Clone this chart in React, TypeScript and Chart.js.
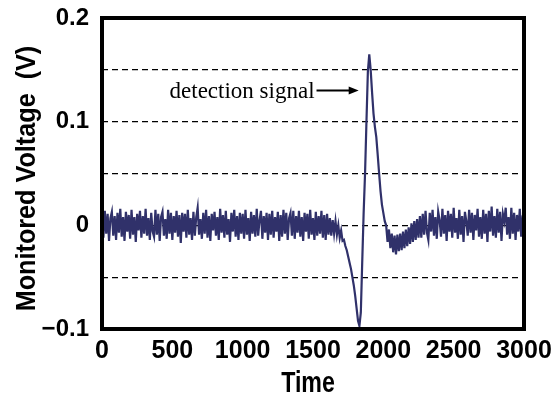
import { useEffect, useRef } from 'react';
import { Chart, registerables } from 'chart.js';

Chart.register(...registerables);

// Sampling of the monitored trace (time units)
const TIME_START = 0;
const TIME_STEP = 10;

// Monitored voltage in millivolts, one value per TIME_STEP, t = 0 … 3000
const VOLTAGE_MV = [
  10, -12, 14, -8, 11, -15, 7, 13, -10, 9, -14, 12, -7, 16, -11, 8, -15, 13, -6, 10,
  -13, 15, -9, 8, -16, 11, -5, 14, -12, 9, -8, 16, -10, 7, -14, 12, -6, -11, 15, -9,
  11, -15, 8, 13, -10, 6, -13, 15, -8, 12, -14, 9, -7, 14, -11, 10, -17, 12, -6, 11,
  -12, 15, -9, 7, -14, 13, -10, 8, 17, -9, 6, -13, 12, -8, 15, -12, 9, -15, 11, -5,
  13, -10, 8, -14, 16, -7, 10, -12, 14, -9, 6, -16, 12, -6, 15, -11, 9, -14, 12, -8,
  11, -13, 15, -9, 7, -15, 13, -8, 10, -11, 16, -10, 5, 14, -13, 9, -7, 12, -14, 11,
  -9, 14, -12, 8, -6, 13, -15, 10, -11, 15, -8, 12, -14, 7, 12, -10, 14, -13, 9, -7,
  14, -11, 8, -15, 12, -6, 11, -13, 15, -9, 7, -14, 13, -10, 9, -8, 14, -12, 10, -14,
  11, -9, 7, -10, 5,
  -8, 4, -9, 0, -12, -5, -15, -14, -20, -24,
  -30, -36, -42, -50, -58, -68, -80, -92, -97, -84,
  -35, 12, 50, 100, 148, 165, 150, 128, 108, 95,
  85, 68, 50, 33, 20, 12, 4, 0, -16, -4,
  -22, -8, -26, -10, -28, -9, -25, -8, -24, -6,
  -22, -4, -20, -2, -18, 2, -16, 4, -14, 6,
  -12,
  9, -12, 11, -9, 14, -7, -14, 12, -6, 15,
  -10, 8, -13, 13, 5, -11, 16, -8, 10, -15,
  14, -6, 11, -12, 17, -7, 7, -13, 15, -9,
  9, -16, 13, 4, -10, 15, -7, 12, -14, 10,
  -5, 16, -11, 8, -13, 15, -8, 11, -16, 14,
  -6, 18, -10, 9, -12, 16, -7, 13, -15, 11,
  4, 17, -9, 8, -13, 17, -8, 12, -14, 10,
  -6, 16, -11, 9, 11,
];

const X_MIN = 0;
const X_MAX = 3000;
const X_STEP = 500;
const Y_MIN = -0.1;
const Y_MAX = 0.2;
const Y_GRID_STEP = 0.05;
const Y_TICK_VALUES = [-0.1, 0, 0.1, 0.2];
const Y_TICK_LABELS = ['\u22120.1', '0', '0.1', '0.2'];

const X_TITLE = 'Time';
const Y_TITLE = 'Monitored Voltage  (V)';

const ANNOTATION_TEXT = 'detection signal';
const ARROW_TAIL = { x: 1525, y: 0.13 };
const ARROW_HEAD = { x: 1825, y: 0.13 };

const LINE_COLOR = '#30316a';
const SANS = "'Liberation Sans', Arial, sans-serif";

const framePlugin = {
  id: 'frame',
  afterDraw(chart: any) {
    const { ctx, chartArea } = chart;
    ctx.save();
    ctx.strokeStyle = '#000';
    ctx.lineWidth = 4;
    ctx.strokeRect(chartArea.left, chartArea.top, chartArea.right - chartArea.left, chartArea.bottom - chartArea.top);
    ctx.restore();
  },
};

// Axis titles drawn as condensed bold text
const titlesPlugin = {
  id: 'condensedTitles',
  afterDraw(chart: any) {
    const { ctx, chartArea } = chart;
    ctx.save();
    ctx.fillStyle = '#000';
    ctx.font = `bold 29px ${SANS}`;
    ctx.textAlign = 'center';
    ctx.textBaseline = 'alphabetic';
    const cx = (chartArea.left + chartArea.right) / 2 - 5;
    ctx.save();
    ctx.translate(cx, chart.height - 2);
    ctx.scale(0.8, 1);
    ctx.fillText(X_TITLE, 0, 0);
    ctx.restore();

    ctx.font = `bold 28px ${SANS}`;
    const cy = (chartArea.top + chartArea.bottom) / 2 + 5;
    ctx.save();
    ctx.translate(35, cy);
    ctx.rotate(-Math.PI / 2);
    ctx.scale(0.9, 1);
    ctx.fillText(Y_TITLE, 0, 0);
    ctx.restore();
    ctx.restore();
  },
};

const annotationPlugin = {
  id: 'detectionLabel',
  afterDraw(chart: any) {
    const { ctx, scales } = chart;
    const x0 = scales.x.getPixelForValue(ARROW_TAIL.x);
    const x1 = scales.x.getPixelForValue(ARROW_HEAD.x);
    const y = scales.y.getPixelForValue(ARROW_TAIL.y);
    ctx.save();
    ctx.fillStyle = '#000';
    ctx.strokeStyle = '#000';
    ctx.font = "23px 'Liberation Serif', 'Times New Roman', serif";
    ctx.textAlign = 'right';
    ctx.textBaseline = 'alphabetic';
    ctx.fillText(ANNOTATION_TEXT, x0 - 2, y + 7);
    ctx.lineWidth = 2;
    ctx.beginPath();
    ctx.moveTo(x0, y);
    ctx.lineTo(x1 - 8, y);
    ctx.stroke();
    ctx.beginPath();
    ctx.moveTo(x1, y);
    ctx.lineTo(x1 - 10, y - 4);
    ctx.lineTo(x1 - 10, y + 4);
    ctx.closePath();
    ctx.fill();
    ctx.restore();
  },
};

export default function App() {
  const canvasRef = useRef<HTMLCanvasElement | null>(null);

  useEffect(() => {
    const canvas = canvasRef.current;
    if (!canvas) return;
    const points = VOLTAGE_MV.map((mv, i) => ({ x: TIME_START + i * TIME_STEP, y: mv / 1000 }));
    const chart = new Chart(canvas, {
      type: 'line',
      data: {
        datasets: [
          {
            data: points,
            borderColor: LINE_COLOR,
            borderWidth: 2.2,
            pointRadius: 0,
            tension: 0,
            fill: false,
          },
        ],
      },
      options: {
        animation: false,
        responsive: false,
        maintainAspectRatio: false,
        layout: { padding: { top: 18, right: 36, left: 0, bottom: 0 } },
        plugins: { legend: { display: false }, tooltip: { enabled: false } },
        scales: {
          x: {
            type: 'linear',
            min: X_MIN,
            max: X_MAX,
            afterFit: (s: any) => {
              s.height = 65;
              s.paddingLeft = 0;
              s.paddingRight = 0;
            },
            grid: { display: false, drawTicks: false },
            border: { display: false },
            ticks: {
              stepSize: X_STEP,
              autoSkip: false,
              maxRotation: 0,
              padding: 7,
              color: '#000',
              font: { family: SANS, size: 25, weight: 'bold' },
              callback: (v: any) => String(v),
            },
          },
          y: {
            type: 'linear',
            min: Y_MIN,
            max: Y_MAX,
            afterFit: (s: any) => {
              s.width = 102;
              s.paddingTop = 0;
              s.paddingBottom = 0;
            },
            grid: {
              drawTicks: false,
              lineWidth: 1.3,
              color: (c: any) => {
                const v = c.tick ? c.tick.value : 0;
                return Math.abs(v - Y_MIN) < 1e-6 || Math.abs(v - Y_MAX) < 1e-6 ? 'rgba(0,0,0,0)' : '#000';
              },
            },
            border: { display: false, dash: [6, 4] },
            ticks: {
              stepSize: Y_GRID_STEP,
              autoSkip: false,
              padding: 13,
              color: '#000',
              font: { family: SANS, size: 24, weight: 'bold' },
              callback: (v: any) => {
                const idx = Y_TICK_VALUES.findIndex((t) => Math.abs(t - Number(v)) < 1e-6);
                return idx >= 0 ? Y_TICK_LABELS[idx] : '';
              },
            },
          },
        },
      },
      plugins: [framePlugin, titlesPlugin, annotationPlugin],
    });
    return () => chart.destroy();
  }, []);

  return (
    <div style={{ position: 'fixed', left: 0, top: 0, width: 560, height: 394, background: '#fff' }}>
      <canvas ref={canvasRef} width={560} height={394} />
    </div>
  );
}
